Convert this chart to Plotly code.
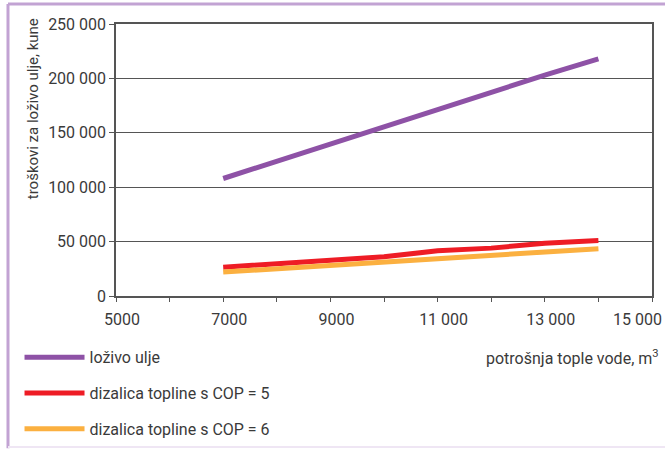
import plotly.graph_objects as go

# Hot water consumption (m3) and annual cost (kune) per heating option
potrosnja = [7000, 8000, 9000, 10000, 11000, 12000, 13000, 14000]
lozivo_ulje = [108000, 124000, 140000, 156000, 172000, 187000, 203000, 218000]
cop5 = [26500, 30000, 33000, 36000, 41500, 44000, 48500, 51000]
cop6 = [22000, 25000, 28000, 31500, 34000, 37000, 41000, 43500]

serije = [
    ("loživo ulje", lozivo_ulje, "#8e52a6"),
    ("dizalica topline s COP = 5", cop5, "#ee1c25"),
    ("dizalica topline s COP = 6", cop6, "#fbb040"),
]

x_ticks = [5000, 6000, 7000, 8000, 9000, 10000, 11000, 12000, 13000, 14000, 15000]
x_labels = ["5000", "", "7000", "", "9000", "", "11 000", "", "13 000", "", ""]
x_last_label = "15 000"
y_ticks = [0, 50000, 100000, 150000, 200000, 250000]
y_labels = ["0", "50 000", "100 000", "150 000", "200 000", "250 000"]

FONT = "Liberation Sans Narrow, Roboto, sans-serif"
TXT = "#3a3a3a"
FS = 16

fig = go.Figure()
for i, (ime, vrijednosti, boja) in enumerate(serije):
    fig.add_trace(go.Scatter(
        x=potrosnja, y=vrijednosti, name=ime, mode="lines",
        line=dict(color=boja, width=5),
        legendgroup=f"g{i}",
    ))

fig.update_layout(
    width=665, height=449,
    margin=dict(l=116, r=13, t=24, b=153, autoexpand=False),
    paper_bgcolor="white", plot_bgcolor="white",
    font=dict(family=FONT, size=FS, color=TXT),
    showlegend=True,
    legend=dict(
        x=-0.18, y=-0.163, xanchor="left", yanchor="top",
        font=dict(family=FONT, size=FS, color=TXT),
        itemwidth=60, tracegroupgap=12,
        bgcolor="rgba(0,0,0,0)",
    ),
    xaxis=dict(
        range=[5000, 15000], tickvals=x_ticks, ticktext=x_labels,
        showgrid=False, zeroline=False,
        showline=True, linecolor="#555555", linewidth=1.5, mirror=True,
        ticks="outside", ticklen=4, tickcolor="#555555",
        ticklabelshift=6, ticklabelstandoff=4, ticklabeloverflow="allow",
        tickfont=dict(family=FONT, size=FS, color=TXT),
    ),
    yaxis=dict(
        range=[0, 250000], tickvals=y_ticks, ticktext=y_labels,
        showgrid=True, gridcolor="#555555", gridwidth=1, zeroline=False,
        showline=True, linecolor="#555555", linewidth=1.5, mirror=True,
        ticks="outside", ticklen=5, tickcolor="#555555",
        ticklabeloverflow="allow",
        tickfont=dict(family=FONT, size=FS, color=TXT),
    ),
)

# Last x tick label, pulled inside the right edge
fig.add_annotation(
    text=x_last_label, xref="paper", yref="paper",
    x=1.0, xshift=12, y=0, yshift=-12,
    xanchor="right", yanchor="top", showarrow=False,
    font=dict(family=FONT, size=FS, color=TXT),
)

# Axis titles
fig.add_annotation(
    text="troškovi za loživo ulje, kune",
    xref="paper", yref="paper", x=-0.155, y=0.69,
    xanchor="center", yanchor="middle", textangle=-90, showarrow=False,
    font=dict(family=FONT, size=15, color=TXT),
)
fig.add_annotation(
    text="potrošnja tople vode, m<sup>3</sup>",
    xref="paper", yref="paper", x=1.017, y=-0.225,
    xanchor="right", yanchor="middle", showarrow=False,
    font=dict(family=FONT, size=FS, color=TXT),
)

# Purple page frame on the top, left and bottom edges
frame = "#c2a3d3"
fig.add_shape(type="line", xref="paper", yref="paper",
              x0=-0.2015, x1=1.03, y0=1.0735, y1=1.0735,
              line=dict(color=frame, width=3))
fig.add_shape(type="line", xref="paper", yref="paper",
              x0=-0.2015, x1=-0.2015, y0=1.0735, y1=-0.56,
              line=dict(color=frame, width=3))
fig.add_shape(type="line", xref="paper", yref="paper",
              x0=-0.2015, x1=1.03, y0=-0.5555, y1=-0.5555,
              line=dict(color="#efe6f4", width=2))

fig.write_html("out.html")
